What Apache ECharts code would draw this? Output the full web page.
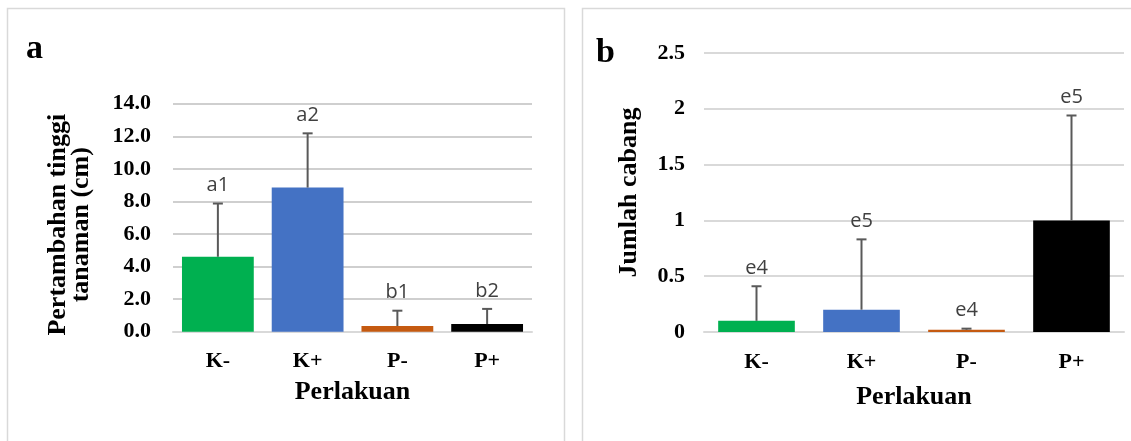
<!DOCTYPE html>
<html>
<head>
<meta charset="utf-8">
<script src="https://cdn.jsdelivr.net/npm/echarts@6/dist/echarts.min.js"></script>
<style>
html,body{margin:0;padding:0;background:#fff;}
#c{width:1131px;height:441px;}
</style>
</head>
<body>
<div id="c"></div>
<script>
// ---- data ----
const categories = ['K-', 'K+', 'P-', 'P+'];
const barColors = ['#00B050', '#4472C4', '#C55A11', '#000000'];

const heightMean = [4.6, 8.85, 0.35, 0.47];
const heightSD = [3.27, 3.33, 0.94, 0.93];
const heightLabels = ['a1', 'a2', 'b1', 'b2'];
const heightMax = 14;

const branchMean = [0.10, 0.20, 0.02, 1.0];
const branchSD = [0.31, 0.63, 0.01, 0.94];
const branchLabels = ['e4', 'e5', 'e4', 'e5'];
const branchMax = 2.5;

const panelLetters = ['a', 'b'];
const yTitleA = 'Pertambahan tinggi\ntanaman (cm)';
const yTitleB = 'Jumlah cabang';
const xTitle = 'Perlakuan';

// ---- styles ----
const SERIF = '"Liberation Serif", "Times New Roman", serif';
const gridCol = '#d9d9d9';

function errSeries(gi, means, sds, labels) {
  return {
    type: 'custom',
    xAxisIndex: gi, yAxisIndex: gi,
    z: 10,
    data: means.map((m, i) => [i, m, m + sds[i]]),
    encode: { x: 0, y: [1, 2] },
    renderItem: function (params, api) {
      const i = api.value(0);
      const base = api.coord([i, api.value(1)]);
      const top = api.coord([i, api.value(2)]);
      const lab = labels[params.dataIndex];
      const hw = 5;
      return {
        type: 'group',
        children: [
          { type: 'line', shape: { x1: base[0], y1: base[1], x2: top[0], y2: top[1] },
            style: { stroke: '#595959', lineWidth: 2 } },
          { type: 'line', shape: { x1: top[0] - hw, y1: top[1], x2: top[0] + hw, y2: top[1] },
            style: { stroke: '#595959', lineWidth: 2 } },
          { type: 'text', x: top[0], y: top[1] - 8,
            style: { text: lab, fill: '#404040', font: '20px "Open Sans", sans-serif',
                     align: 'center', verticalAlign: 'bottom' } }
        ]
      };
    }
  };
}

function barSeries(gi, means, widthPct) {
  return {
    type: 'bar',
    xAxisIndex: gi, yAxisIndex: gi,
    barWidth: widthPct,
    data: means.map((v, i) => ({ value: v, itemStyle: { color: barColors[i] } }))
  };
}

function xAxis(gi, gap) {
  return {
    type: 'category', gridIndex: gi, data: categories,
    axisTick: { show: false },
    axisLine: { show: true, lineStyle: { color: gridCol, width: 2 } },
    axisLabel: { margin: 19, color: '#000', fontFamily: SERIF, fontWeight: 'bold', fontSize: 22 },
    name: xTitle, nameLocation: 'middle', nameGap: gap,
    nameTextStyle: { color: '#000', fontFamily: SERIF, fontWeight: 'bold', fontSize: 26 }
  };
}

const chart = echarts.init(document.getElementById('c'), null, { renderer: 'canvas' });
chart.setOption({
  backgroundColor: '#fff',
  animation: false,
  grid: [
    { left: 173, top: 103.7, width: 359, height: 228, containLabel: false },
    { left: 704, top: 53, width: 420, height: 279, containLabel: false }
  ],
  xAxis: [xAxis(0, 48), xAxis(1, 52)],
  yAxis: [
    {
      type: 'value', gridIndex: 0, min: 0, max: heightMax, interval: 2,
      axisLine: { show: false }, axisTick: { show: false },
      splitLine: { show: true, lineStyle: { color: '#cfcfcf', width: 2 } },
      axisLabel: { margin: 22, color: '#000', fontFamily: SERIF, fontWeight: 'bold', fontSize: 22,
                   formatter: v => v.toFixed(1) },
      name: yTitleA, nameLocation: 'middle', nameRotate: 90, nameGap: 80,
      nameTextStyle: { color: '#000', fontFamily: SERIF, fontWeight: 'bold', fontSize: 26, lineHeight: 23,
                       padding: [0, 14, 0, 0] }
    },
    {
      type: 'value', gridIndex: 1, min: 0, max: branchMax, interval: 0.5,
      axisLine: { show: false }, axisTick: { show: false },
      splitLine: { show: true, lineStyle: { color: gridCol, width: 2 } },
      axisLabel: { margin: 19, color: '#000', fontFamily: SERIF, fontWeight: 'bold', fontSize: 22 },
      name: yTitleB, nameLocation: 'middle', nameRotate: 90, nameGap: 62,
      nameTextStyle: { color: '#000', fontFamily: SERIF, fontWeight: 'bold', fontSize: 26 }
    }
  ],
  series: [
    barSeries(0, heightMean, '80%'),
    errSeries(0, heightMean, heightSD, heightLabels),
    barSeries(1, branchMean, '73%'),
    errSeries(1, branchMean, branchSD, branchLabels)
  ],
  graphic: [
    { type: 'rect', shape: { x: 7.5, y: 8.5, width: 557, height: 445 },
      style: { fill: 'none', stroke: '#d9d9d9', lineWidth: 1.5 }, silent: true, z: -1 },
    { type: 'rect', shape: { x: 582.5, y: 8.5, width: 600, height: 445 },
      style: { fill: 'none', stroke: '#d9d9d9', lineWidth: 1.5 }, silent: true, z: -1 },
    { type: 'text', x: 26, y: 49,
      style: { text: panelLetters[0], fill: '#000', font: 'bold 34px "Liberation Serif", serif', verticalAlign: 'middle' } },
    { type: 'text', x: 596, y: 53,
      style: { text: panelLetters[1], fill: '#000', font: 'bold 34px "Liberation Serif", serif', verticalAlign: 'middle' } }
  ]
});
</script>
</body>
</html>
